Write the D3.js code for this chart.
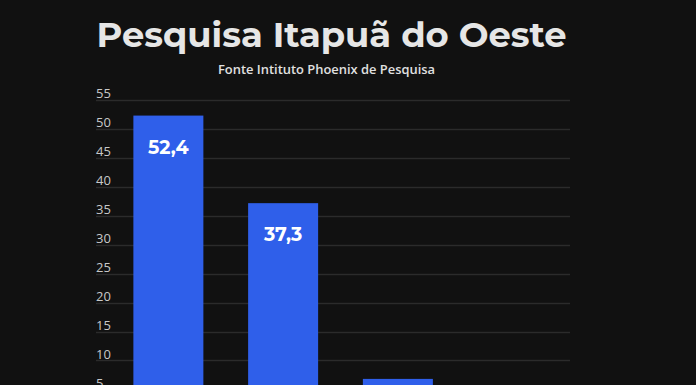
<!DOCTYPE html>
<html><head><meta charset="utf-8">
<script src="https://cdn.jsdelivr.net/npm/d3@7"></script>
<style>html,body{margin:0;padding:0;background:#111111;overflow:hidden}</style>
</head><body>
<svg id="c" width="696" height="385"></svg>
<script>
const categories = ["Candidato A", "Candidato B", "Candidato C", "Outros"];
const values = [52.4, 37.3, 7.0, 3.3];
const valueLabels = ["52,4", "37,3", "7,0", "3,3"];
const yTicks = [0, 5, 10, 15, 20, 25, 30, 35, 40, 45, 50, 55];
const title = "Pesquisa Itapuã do Oeste";
const subtitle = "Fonte Intituto Phoenix de Pesquisa";

const W = 696, H = 385;
const svg = d3.select("#c");
svg.append("rect").attr("width", W).attr("height", H).attr("fill", "#111111");

const y = d3.scaleLinear().domain([0, 55]).range([419.5, 100.5]);
const x = d3.scaleBand().domain(categories).range([111, 570]).paddingInner(0.39).paddingOuter(0.195);

// gridlines
svg.append("g").selectAll("line").data(yTicks.filter(d => d > 0)).join("line")
  .attr("x1", 96).attr("x2", 570)
  .attr("y1", d => Math.round(y(d)) - 0.5).attr("y2", d => Math.round(y(d)) - 0.5)
  .attr("stroke", "#2b2b2b").attr("stroke-width", 1.3);

// y tick labels
const axis = d3.axisLeft(y).tickValues(yTicks.filter(d => d > 0)).tickSize(0).tickFormat(d3.format("d"));
const ag = svg.append("g").attr("transform", "translate(96,0)").call(axis);
ag.select(".domain").remove();
ag.selectAll("text").attr("text-anchor", "start").attr("x", 0).attr("dy", null).attr("y", -3.5)
  .attr("fill", "#c8c8c8").attr("font-family", "Open Sans, sans-serif").attr("font-size", 13);

// bars
svg.append("g").selectAll("rect").data(categories).join("rect")
  .attr("x", d => x(d)).attr("width", x.bandwidth())
  .attr("y", (d, i) => y(values[i])).attr("height", (d, i) => y(0) - y(values[i]))
  .attr("fill", "#2f5fea");

// value labels (only those that fall inside the picture)
const lab = categories.map((d, i) => ({ d, i })).filter(o => y(values[o.i]) + 37 < H - 5);
svg.append("g").selectAll("text").data(lab).join("text")
  .attr("x", o => x(o.d) + x.bandwidth() / 2)
  .attr("y", o => y(values[o.i]) + 38)
  .attr("text-anchor", "middle")
  .attr("fill", "#ffffff").attr("font-family", "Montserrat, Open Sans, sans-serif")
  .attr("font-weight", 700).attr("font-size", 19)
  .text(o => valueLabels[o.i]);

// title
svg.append("text").attr("x", 331.5).attr("y", 47).attr("text-anchor", "middle")
  .attr("fill", "#e6e6e6").attr("font-family", "Montserrat, Open Sans, sans-serif")
  .attr("font-weight", 700).attr("font-size", 35).text(title)
  .attr("textLength", 470).attr("lengthAdjust", "spacingAndGlyphs");

svg.append("text").attr("x", 326.5).attr("y", 74).attr("text-anchor", "middle")
  .attr("fill", "#e0e0e0").attr("font-family", "Open Sans, sans-serif")
  .attr("font-weight", 600).attr("font-size", 12.5).text(subtitle)
  .attr("textLength", 217).attr("lengthAdjust", "spacingAndGlyphs");
</script>
</body></html>
